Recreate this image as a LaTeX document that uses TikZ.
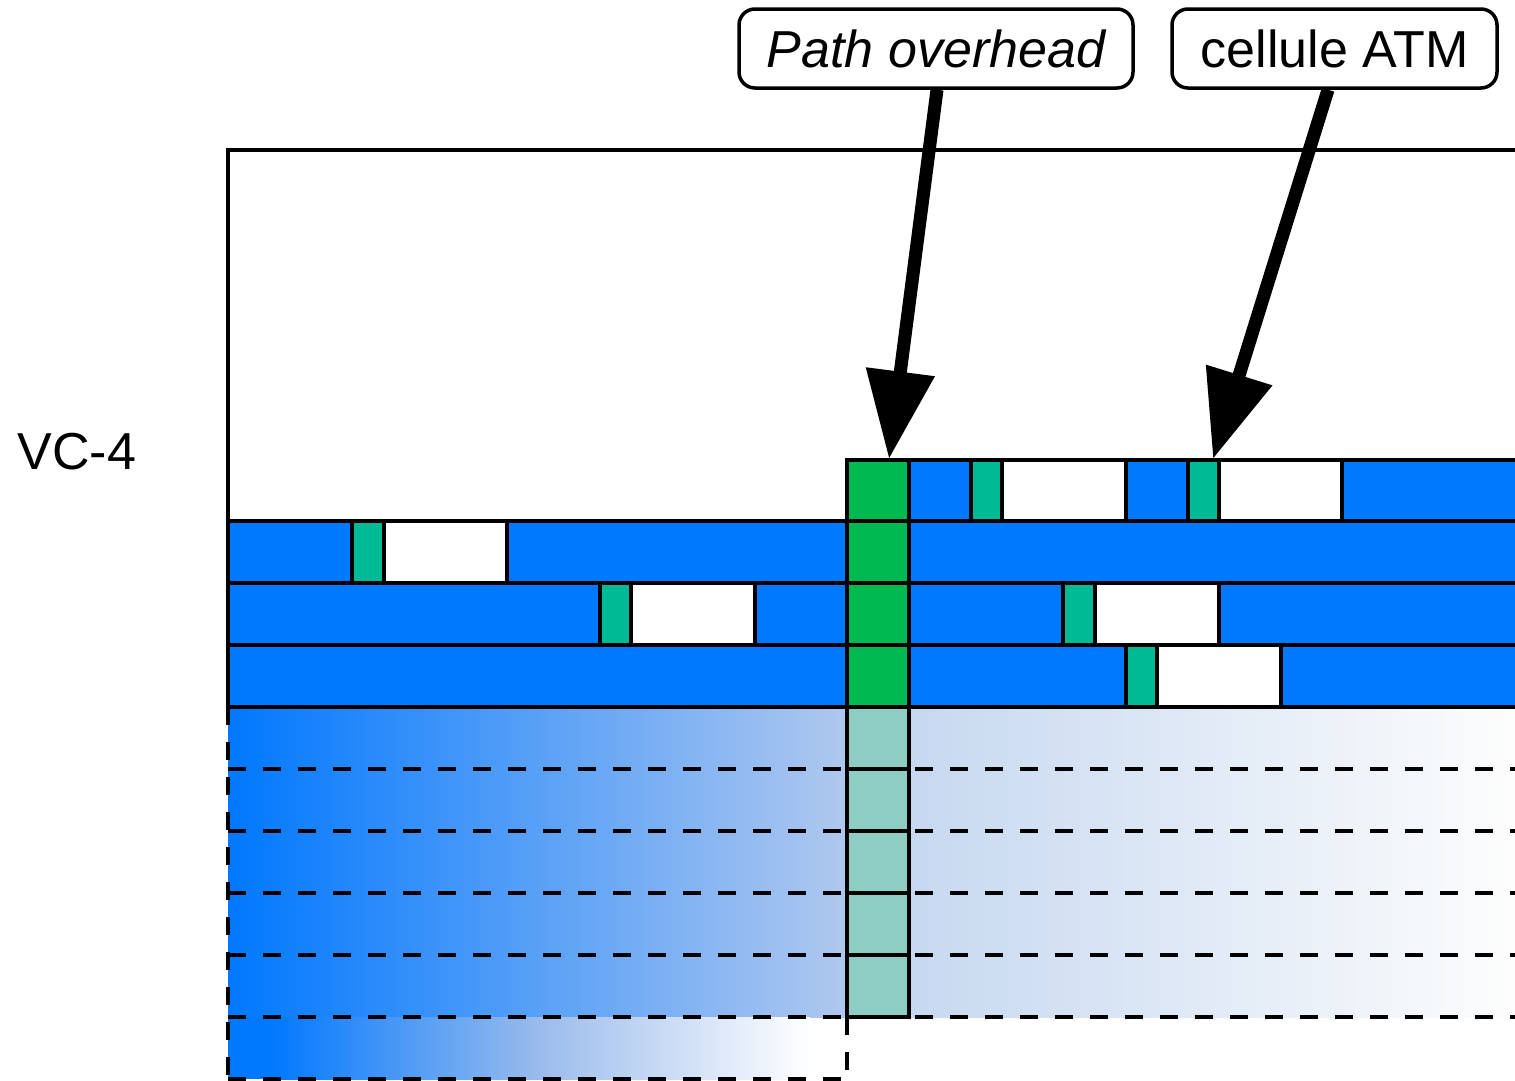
\documentclass[tikz,border=0pt]{standalone}
\usepackage{fontspec}
\setmainfont{Liberation Sans}
\usetikzlibrary{arrows.meta}
\definecolor{atmblue}{RGB}{0,120,255}
\definecolor{pohgreen}{RGB}{0,185,80}
\definecolor{hdrteal}{RGB}{0,186,150}
\definecolor{pohfade}{RGB}{142,205,196}
\definecolor{fadeA}{RGB}{176,200,238}
\definecolor{fadeB}{RGB}{198,216,240}
\definecolor{fadeC}{RGB}{253,253,253}
\definecolor{fadeM}{RGB}{155,188,236}
% one coloured piece of a row: fill, x-from, y-top, x-to
\newcommand\rowpart[4]{\draw[seg,fill=#1] (#2,#3) rectangle (#4,{#3+62});}
\begin{document}
\begin{tikzpicture}[x=1pt,y=-1pt,
  frame/.style={line width=4.5pt},
  seg/.style={draw,line width=4pt},
  dashrule/.style={line width=4pt,dash pattern=on 18pt off 17pt},
  callout/.style={draw,line width=3.5pt,rounded corners=16pt,minimum height=79pt,
    inner sep=0pt,font=\fontsize{52}{60}\selectfont},
  bigarrow/.style={line width=13pt,-{Triangle[length=88pt,width=66pt]}}
]
\clip (0,0) rectangle (1515,1080);

% faded continuation rows
\shade[left color=atmblue,right color=fadeA] (228,707) rectangle (847,1017);
\shade[left color=fadeB,right color=fadeC] (909,707) rectangle (1515,1017);
\fill[atmblue] (228,1017) rectangle (271,1079);
\shade[left color=atmblue,right color=white,middle color=fadeM] (270,1017) rectangle (810,1079);

% dashed row borders
\foreach \y in {769,831,893,955,1017}{
  \draw[dashrule] (228,\y) -- (847,\y);
  \draw[dashrule] (915,\y) -- (1530,\y);
}
\draw[dashrule] (228,1079) -- (847,1079);
\draw[dashrule] (228,707) -- (228,1085);
\draw[dashrule] (847,1017) -- (847,1085);

% faded path overhead column
\foreach \k in {0,...,4}
  \draw[seg,fill=pohfade] (847,{707+62*\k}) rectangle (909,{769+62*\k});

% frame of the container
\draw[frame] (228,707) -- (228,150) -- (1530,150);

% row 0
\rowpart{pohgreen}{847}{460}{909}
\rowpart{atmblue}{909}{460}{971}
\rowpart{hdrteal}{971}{460}{1002}
\rowpart{white}{1002}{460}{1126}
\rowpart{atmblue}{1126}{460}{1188}
\rowpart{hdrteal}{1188}{460}{1219}
\rowpart{white}{1219}{460}{1342}
\rowpart{atmblue}{1342}{460}{1530}
% row 1
\rowpart{atmblue}{228}{521}{352}
\rowpart{hdrteal}{352}{521}{384}
\rowpart{white}{384}{521}{507}
\rowpart{atmblue}{507}{521}{847}
\rowpart{pohgreen}{847}{521}{909}
\rowpart{atmblue}{909}{521}{1530}
% row 2
\rowpart{atmblue}{228}{583}{600}
\rowpart{hdrteal}{600}{583}{631}
\rowpart{white}{631}{583}{755}
\rowpart{atmblue}{755}{583}{847}
\rowpart{pohgreen}{847}{583}{909}
\rowpart{atmblue}{909}{583}{1063}
\rowpart{hdrteal}{1063}{583}{1095}
\rowpart{white}{1095}{583}{1219}
\rowpart{atmblue}{1219}{583}{1530}
% row 3
\rowpart{atmblue}{228}{645}{847}
\rowpart{pohgreen}{847}{645}{909}
\rowpart{atmblue}{909}{645}{1126}
\rowpart{hdrteal}{1126}{645}{1157}
\rowpart{white}{1157}{645}{1281}
\rowpart{atmblue}{1281}{645}{1530}

% labels
\node[font=\fontsize{52}{60}\selectfont] (vc) at (77,452) {VC-4};
\node[callout,minimum width=394pt,font=\fontsize{52}{60}\selectfont\itshape] (poh) at (936,48.5) {Path overhead};
\node[callout,minimum width=325pt] (atm) at (1334.5,48.5) {cellule ATM};

% pointers
\coordinate (pohtip) at (889,459);
\coordinate (atmtip) at (1213,459);
\draw[bigarrow] ([xshift=1pt]poh.south) -- (pohtip);
\draw[bigarrow] ([xshift=-6.5pt]atm.south) -- (atmtip);
\end{tikzpicture}
\end{document}
